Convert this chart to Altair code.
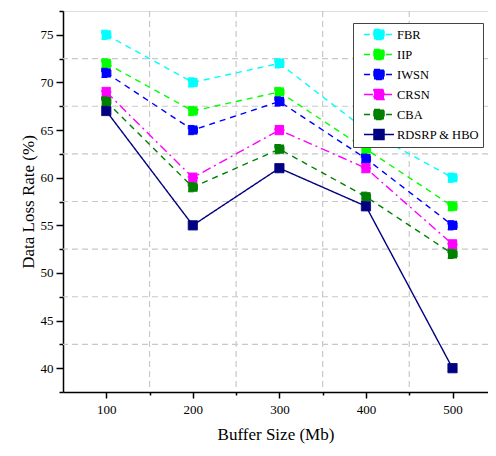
import altair as alt
import pandas as pd

buffer_sizes = [100, 200, 300, 400, 500]
series_names = ["FBR", "IIP", "IWSN", "CRSN", "CBA", "RDSRP & HBO"]
fbr = [75, 70, 72, 65, 60]
iip = [72, 67, 69, 63, 57]
iwsn = [71, 65, 68, 62, 55]
crsn = [69, 60, 65, 61, 53]
cba = [68, 59, 63, 58, 52]
rdsrp = [67, 55, 61, 57, 40]
colors = ["#00FFFF", "#00FF00", "#0000FF", "#FF00FF", "#008000", "#000080"]
dashes = [[6, 5], [6, 5], [6, 5], [9, 4, 2, 4], [6, 5], [1, 0]]

x_grid = [150, 250, 350, 450]
y_grid = [42.5, 47.5, 52.5, 57.5, 62.5, 67.5, 72.5]
x_ticks = [100, 150, 200, 250, 300, 350, 400, 450, 500]
y_ticks = [37.5, 40, 42.5, 45, 47.5, 50, 52.5, 55, 57.5, 60, 62.5, 65, 67.5, 70, 72.5, 75, 77.5]

rows = []
for name, vals in zip(series_names, [fbr, iip, iwsn, crsn, cba, rdsrp]):
    for x, v in zip(buffer_sizes, vals):
        rows.append({"Buffer": x, "Rate": v, "Series": name})
df = pd.DataFrame(rows)

FONT = "'Liberation Serif', 'Times New Roman', serif"

xscale = alt.Scale(domain=[50, 541], nice=False, zero=False)
yscale = alt.Scale(domain=[37.5, 77.5], nice=False, zero=False)

x_axis = alt.Axis(values=x_ticks, grid=False, title="Buffer Size (Mb)",
                  labelExpr="datum.value % 100 == 0 ? datum.label : ''",
                  labelOverlap=False,
                  tickSize={"condition": {"test": "datum.value % 100 == 0", "value": 6}, "value": 3},
                  domainColor="black", tickColor="black", domainWidth=1.5, tickWidth=1.5,
                  labelFont=FONT, labelFontSize=13, labelColor="black", labelPadding=5,
                  titleFont=FONT, titleFontSize=17, titleFontWeight="normal",
                  titleColor="black", titlePadding=10)
y_axis = alt.Axis(values=y_ticks, grid=False, title="Data Loss Rate (%)",
                  labelExpr="datum.value % 5 == 0 ? datum.label : ''",
                  labelOverlap=False, labelFlush=False,
                  tickSize={"condition": {"test": "datum.value % 5 == 0", "value": 7}, "value": 4},
                  domainColor="black", tickColor="black", domainWidth=1.5, tickWidth=1.5,
                  labelFont=FONT, labelFontSize=13, labelColor="black", labelPadding=3,
                  titleFont=FONT, titleFontSize=17, titleFontWeight="normal",
                  titleColor="black", titlePadding=3)

legend = alt.Legend(
    title=None, orient="none", legendX=290, legendY=12,
    strokeColor="#444444", fillColor="white", padding=4, cornerRadius=0,
    labelFont=FONT, labelFontSize=12.5, labelColor="black", labelOffset=25,
    symbolType="M-0.077,0H4.538M1.46,-0.77H3V0.77H1.46Z", symbolSize=169,
    symbolStrokeWidth=1.5, rowPadding=3, labelLimit=200,
)

color_scale = alt.Scale(domain=series_names, range=colors)
dash_scale = alt.Scale(domain=series_names, range=dashes)

vgrid = alt.Chart(pd.DataFrame({"g": x_grid})).mark_rule(
    color="#c8c8c8", strokeDash=[6, 4], strokeWidth=1.2
).encode(x=alt.X("g:Q", scale=xscale, axis=x_axis))
hgrid = alt.Chart(pd.DataFrame({"g": y_grid})).mark_rule(
    color="#c8c8c8", strokeDash=[6, 4], strokeWidth=1.2
).encode(y=alt.Y("g:Q", scale=yscale, axis=y_axis))

lines = alt.Chart(df).mark_line(strokeWidth=1.4).encode(
    x=alt.X("Buffer:Q", scale=xscale, axis=x_axis),
    y=alt.Y("Rate:Q", scale=yscale, axis=y_axis),
    stroke=alt.Stroke("Series:N", scale=color_scale, legend=legend, sort=series_names),
    strokeDash=alt.StrokeDash("Series:N", scale=dash_scale, legend=legend, sort=series_names),
)

points = alt.Chart(df).mark_point(shape="square", filled=True, size=85, strokeWidth=1, opacity=1,
                                  strokeJoin="miter").encode(
    x=alt.X("Buffer:Q", scale=xscale, axis=x_axis),
    y=alt.Y("Rate:Q", scale=yscale, axis=y_axis),
    fill=alt.Fill("Series:N", scale=color_scale, legend=legend, sort=series_names),
    stroke=alt.Stroke("Series:N", scale=color_scale, legend=legend, sort=series_names),
    strokeDash=alt.StrokeDash("Series:N", scale=dash_scale, legend=legend, sort=series_names),
)

chart = alt.layer(vgrid, hgrid, lines, points).properties(
    width=425, height=381,
    autosize=alt.AutoSizeParams(type="none"),
    padding={"left": 55, "top": 3, "right": 0, "bottom": 56},
).configure_view(stroke=None).configure(background="white")

chart.save("out.html", embed_options={"renderer": "svg", "actions": False})
